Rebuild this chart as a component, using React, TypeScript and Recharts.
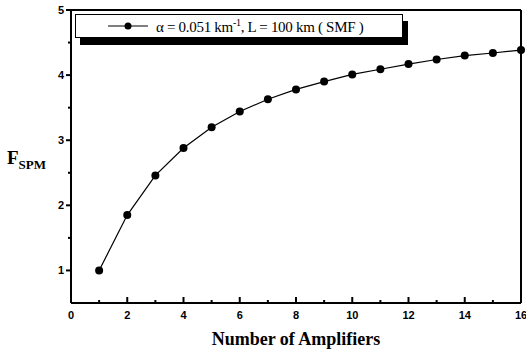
import React from 'react';
import { LineChart, Line, XAxis, YAxis, ReferenceLine, Label } from 'recharts';

const amplifiers = [1, 2, 3, 4, 5, 6, 7, 8, 9, 10, 11, 12, 13, 14, 15, 16];
const fspm = [1.0, 1.85, 2.46, 2.88, 3.2, 3.44, 3.63, 3.78, 3.9, 4.01, 4.09, 4.17, 4.24, 4.3, 4.34, 4.385];
const xTicks = [0, 1, 2, 3, 4, 5, 6, 7, 8, 9, 10, 11, 12, 13, 14, 15, 16];
const yTicks = [0.5, 1, 1.5, 2, 2.5, 3, 3.5, 4, 4.5, 5];
const legendLabel = 'α = 0.051 km';
const legendLabel2 = ', L = 100 km ( SMF )';

const data = amplifiers.map((n, i) => ({ n, v: fspm[i] }));

const sans = '"Liberation Sans", Arial, sans-serif';
const serif = '"Liberation Serif", "Times New Roman", serif';

const XTick = (props: any) => {
  const { x, y, payload } = props;
  const major = payload.value % 2 === 0;
  return (
    <g>
      <line x1={x} x2={x} y1={y} y2={y - (major ? 6 : 3)} stroke="#000" strokeWidth={2} />
      {major && (
        <text x={x} y={y + 16} textAnchor="middle" fontFamily={sans} fontWeight="bold" fontSize={11} fill="#000">
          {payload.value}
        </text>
      )}
    </g>
  );
};

const YTick = (props: any) => {
  const { x, y, payload } = props;
  const major = Number.isInteger(payload.value);
  if (payload.value === 0.5) return <g />;
  return (
    <g>
      <line x1={x} x2={x - (major ? 5 : 3)} y1={y} y2={y} stroke="#000" strokeWidth={2} />
      {major && (
        <text x={x - 7} y={y + 4} textAnchor="end" fontFamily={sans} fontWeight="bold" fontSize={11} fill="#000">
          {payload.value}
        </text>
      )}
    </g>
  );
};

const LegendBox = () => (
  <div
    style={{
      position: 'absolute',
      left: 75,
      top: 14,
      width: 326,
      height: 22,
      border: '1.5px solid #000',
      boxShadow: '5px 7px 0 #000',
      background: '#fff',
      display: 'flex',
      alignItems: 'center',
      boxSizing: 'content-box',
    }}
  >
    <svg width={80} height={22} style={{ display: 'block' }}>
      <line x1={32} x2={72} y1={11} y2={11} stroke="#000" strokeWidth={1.2} />
      <circle cx={52} cy={11} r={3.5} fill="#000" />
    </svg>
    <span style={{ fontFamily: serif, fontSize: 15, color: '#000', whiteSpace: 'nowrap', letterSpacing: -0.3 }}>
      {legendLabel}
      <sup style={{ fontSize: 10 }}>-1</sup>
      {legendLabel2}
    </span>
  </div>
);

export default function App() {
  return (
    <div style={{ position: 'absolute', left: 0, top: 0, width: 526, height: 350, background: '#fff' }}>
      <LineChart width={526} height={350} data={data} margin={{ top: 10, right: 5, left: 0, bottom: 0 }}>
        <XAxis
          dataKey="n"
          type="number"
          domain={[0, 16]}
          ticks={xTicks}
          interval={0}
          height={47}
          tickSize={0}
          tickMargin={0}
          tick={<XTick />}
          axisLine={{ stroke: '#000', strokeWidth: 2 }}
          tickLine={false}
        >
          <Label
            value="Number of Amplifiers"
            position="insideBottom"
            offset={5}
            style={{ fontFamily: serif, fontWeight: 'bold', fontSize: 18, fill: '#000' }}
          />
        </XAxis>
        <YAxis
          type="number"
          domain={[0.5, 5]}
          ticks={yTicks}
          interval={0}
          width={71}
          tickSize={0}
          tickMargin={0}
          tick={<YTick />}
          axisLine={{ stroke: '#000', strokeWidth: 2 }}
          tickLine={false}
        />
        <ReferenceLine y={5} stroke="#000" strokeWidth={2} />
        <ReferenceLine x={16} stroke="#000" strokeWidth={2} />
        <Line
          type="linear"
          dataKey="v"
          stroke="#000"
          strokeWidth={1.2}
          dot={{ r: 4, fill: '#000', stroke: '#000', strokeWidth: 0 }}
          isAnimationActive={false}
        />
      </LineChart>
      <LegendBox />
      <div
        style={{
          position: 'absolute',
          left: 7,
          top: 148,
          fontFamily: serif,
          fontWeight: 'bold',
          color: '#000',
          whiteSpace: 'nowrap',
          lineHeight: 1,
        }}
      >
        <span style={{ fontSize: 19 }}>F</span>
        <span style={{ fontSize: 13, position: 'relative', top: 5 }}>SPM</span>
      </div>
    </div>
  );
}
